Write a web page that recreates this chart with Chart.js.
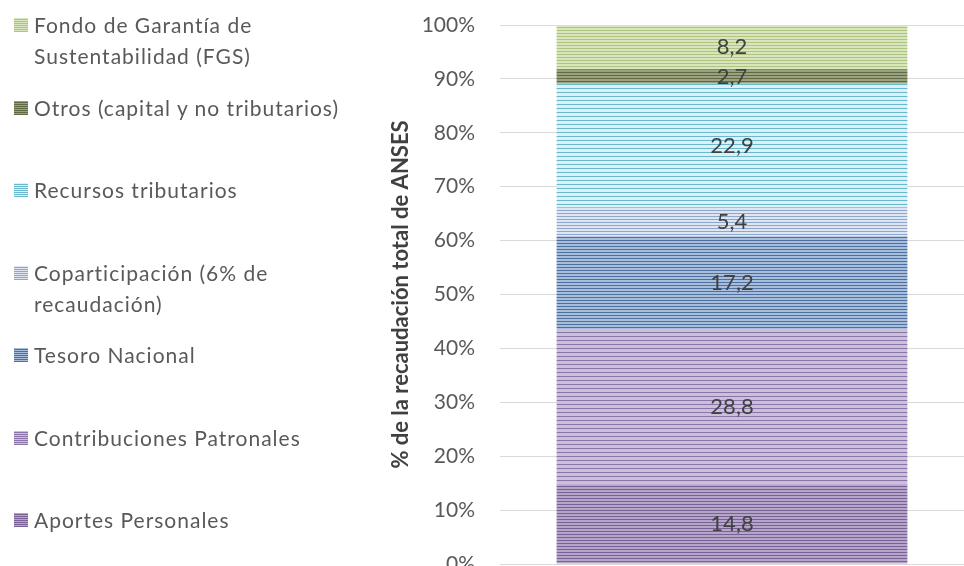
<!DOCTYPE html>
<html lang="es">
<head>
<meta charset="UTF-8">
<title>Recaudación ANSES</title>
<script src="https://cdn.jsdelivr.net/npm/chart.js"></script>
<style>
  html, body { margin: 0; padding: 0; background: #fff; overflow: hidden; }
  #wrap { position: relative; width: 964px; height: 600px; }
  #chart { position: absolute; left: 0; top: 0; }
  .leg { position: absolute; left: 14px; font-family: Lato, sans-serif; font-size: 21px; letter-spacing: 1px; color: #595959; line-height: 31px; }
  .leg i { position: absolute; left: 0; top: 9px; width: 14px; height: 14px; }
  .leg span { display: block; padding-left: 20px; }
</style>
</head>
<body>
<div id="wrap">
  <canvas id="chart" width="964" height="600"></canvas>
  <div id="legend"></div>
</div>
<script>
// bottom to top, as stacked
const labels = ['Aportes Personales', 'Contribuciones Patronales', 'Tesoro Nacional',
  'Coparticipación (6% de recaudación)', 'Recursos tributarios',
  'Otros (capital y no tributarios)', 'Fondo de Garantía de Sustentabilidad (FGS)'];
const values = [14.8, 28.8, 17.2, 5.4, 22.9, 2.7, 8.2];
const yTicks = [0, 10, 20, 30, 40, 50, 60, 70, 80, 90, 100];

// legend text lines, top to bottom
const legendLines = [
  ['Fondo de Garantía de', 'Sustentabilidad (FGS)'],
  ['Otros (capital y no tributarios)'],
  ['Recursos tributarios'],
  ['Coparticipación (6% de', 'recaudación)'],
  ['Tesoro Nacional'],
  ['Contribuciones Patronales'],
  ['Aportes Personales']
];

const fills = [
  ['#b4a5c9', '#7a6298', 3],
  ['#cbc0da', '#8b74a9', 4],
  ['#a9bedb', '#4c70a1', 3],
  ['#dfe6f0', '#8aa7cf', 3],
  ['#dcf0f5', '#6ab8cd', 4],
  ['#98a27e', '#5f6a45', 3],
  ['#d8e5be', '#adc67c', 3]
];

function stripes(base, line, gap) {
  const c = document.createElement('canvas');
  c.width = 8; c.height = gap;
  const g = c.getContext('2d');
  g.fillStyle = base; g.fillRect(0, 0, 8, gap);
  g.fillStyle = line; g.fillRect(0, 0, 8, 1);
  return g.createPattern(c, 'repeat');
}

// html legend
const leg = document.getElementById('legend');
legendLines.forEach((lines, i) => {
  const f = fills[fills.length - 1 - i];
  const d = document.createElement('div');
  d.className = 'leg';
  d.style.top = (9 + i * 82.5) + 'px';
  d.innerHTML = '<i style="background:repeating-linear-gradient(' + f[0] + ' 0 1px,' + f[1] + ' 1px 2px)"></i><span>' + lines.join('<br>') + '</span>';
  leg.appendChild(d);
});

const valueLabels = {
  id: 'valueLabels',
  afterDatasetsDraw(chart) {
    const {ctx} = chart;
    ctx.save();
    ctx.font = '22px Lato';
    ctx.fillStyle = '#404040';
    ctx.textAlign = 'center';
    ctx.textBaseline = 'middle';
    chart.data.datasets.forEach((ds, i) => {
      const bar = chart.getDatasetMeta(i).data[0];
      const p = bar.getProps(['x', 'y', 'base'], true);
      ctx.fillText(ds.data[0].toFixed(1).replace('.', ','), p.x, (p.y + p.base) / 2);
    });
    ctx.restore();
  }
};

new Chart(document.getElementById('chart'), {
  type: 'bar',
  data: {
    labels: [''],
    datasets: labels.map((l, i) => ({
      label: l,
      data: [values[i]],
      backgroundColor: stripes(fills[i][0], fills[i][1], fills[i][2]),
      borderColor: fills[i][1],
      borderWidth: 0,
      barPercentage: 0.84,
      categoryPercentage: 0.9
    }))
  },
  options: {
    responsive: false,
    animation: false,
    layout: { padding: { left: 384, right: 0, top: 25, bottom: 36 } },
    plugins: { legend: { display: false }, tooltip: { enabled: false } },
    scales: {
      x: { stacked: true, display: false },
      y: {
        stacked: true, min: 0, max: 100,
        afterBuildTicks: s => { s.ticks = yTicks.map(v => ({ value: v })); },
        afterFit: s => { s.width = 116; s.paddingTop = 0; s.paddingBottom = 0; },
        border: { display: false },
        grid: { color: '#d9d9d9', drawTicks: false },
        ticks: { padding: 25, color: '#595959', font: { family: 'Lato', size: 21 }, callback: v => v + '%' },
        title: { display: true, text: '% de la recaudación total de ANSES', color: '#404040', font: { family: 'Lato', size: 22, weight: 'bold' } }
      }
    }
  },
  plugins: [valueLabels]
});
</script>
</body>
</html>
